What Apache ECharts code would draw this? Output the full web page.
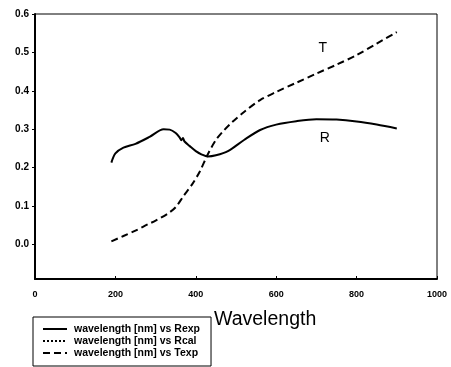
<!DOCTYPE html>
<html>
<head>
<meta charset="utf-8">
<title>Wavelength</title>
<script src="https://cdn.jsdelivr.net/npm/echarts@6/dist/echarts.min.js"></script>
<style>
  html, body { margin: 0; padding: 0; background: #fff; }
  #chart { width: 451px; height: 367px; }
</style>
</head>
<body>
<div id="chart"></div>
<script>
// R measured (solid)
var rWave = [190, 200, 220, 250, 285, 320, 335, 350, 360, 364, 368, 372, 385, 400, 415, 430, 450, 480, 520, 560, 600, 650, 700, 750, 800, 850, 900];
var rVal = [0.213, 0.237, 0.252, 0.262, 0.280, 0.300, 0.299, 0.290, 0.278, 0.271, 0.277, 0.268, 0.256, 0.243, 0.234, 0.229, 0.232, 0.243, 0.272, 0.298, 0.312, 0.321, 0.326, 0.325, 0.320, 0.312, 0.302];
// T measured (dashed)
var tWave = [190, 220, 250, 280, 300, 330, 350, 370, 390, 410, 430, 450, 470, 490, 520, 560, 600, 650, 700, 750, 800, 850, 900];
var tVal = [0.008, 0.022, 0.036, 0.052, 0.062, 0.080, 0.097, 0.127, 0.155, 0.190, 0.235, 0.272, 0.297, 0.318, 0.345, 0.376, 0.397, 0.421, 0.445, 0.468, 0.493, 0.523, 0.553];
// Rcal has no points in the plot, only in the legend
var rcalWave = [];
var rcalVal = [];

var seriesNames = ["wavelength [nm] vs Rexp", "wavelength [nm] vs Rcal", "wavelength [nm] vs Texp"];
var yTicks = [0, 0.1, 0.2, 0.3, 0.4, 0.5, 0.6];
var curveLabels = ["T", "R"];
var curveLabelAt = [[716, 0.512], [721, 0.277]];

function zip(xs, ys) {
  return xs.map(function (x, i) { return [x, ys[i]]; });
}

var font = "'Liberation Sans', Arial, sans-serif";

var chart = echarts.init(document.getElementById("chart"));
var option = {
  animation: false,
  title: {
    text: "Wavelength",
    left: 214,
    top: 310,
    padding: 0,
    textStyle: { fontFamily: font, fontSize: 19.5, fontWeight: "normal", color: "#000" },
  },
  legend: {
    orient: "vertical",
    left: 33,
    top: 317,
    height: 80,
    padding: [6, 11, 7, 9],
    itemWidth: 24,
    itemHeight: 8,
    itemGap: 0,
    itemStyle: { opacity: 0 },
    borderColor: "#000",
    borderWidth: 1,
    borderRadius: 0,
    data: seriesNames,
    textStyle: { fontFamily: font, fontSize: 10.5, lineHeight: 12, fontWeight: "bold", color: "#000", padding: [0, 0, 0, 2] },
  },
  grid: {
    left: 35,
    right: 14,
    top: 14,
    bottom: 88,
    show: true,
    borderColor: "#000",
    borderWidth: 1,
  },
  xAxis: {
    type: "value",
    min: 0,
    max: 1000,
    interval: 200,
    splitLine: { show: false },
    axisLine: { onZero: false, lineStyle: { color: "#000", width: 2 } },
    axisTick: { inside: true, length: 3, lineStyle: { color: "#000" } },
    axisLabel: {
      margin: 11,
      fontFamily: font,
      fontSize: 9,
      fontWeight: "bold",
      color: "#000",
      formatter: function (v) { return String(v); },
    },
  },
  yAxis: {
    type: "value",
    min: -0.09,
    max: 0.6,
    splitLine: { show: false },
    axisLine: { show: true, onZero: false, lineStyle: { color: "#000", width: 2 } },
    axisTick: { show: true, length: 3, customValues: yTicks, lineStyle: { color: "#000" } },
    axisLabel: {
      margin: 6,
      customValues: yTicks,
      fontFamily: font,
      fontSize: 10,
      fontWeight: "bold",
      color: "#000",
      formatter: function (v) { return v.toFixed(1); },
    },
  },
  series: [
    {
      name: seriesNames[0],
      type: "line",
      symbol: "none",
      smooth: 0.3,
      data: zip(rWave, rVal),
      lineStyle: { color: "#000", width: 2 },
      itemStyle: { color: "#000" },
      markPoint: {
        symbol: "circle",
        symbolSize: 0,
        label: { show: true, formatter: curveLabels[1], color: "#000", fontFamily: font, fontSize: 14 },
        data: [{ coord: curveLabelAt[1] }],
      },
    },
    {
      name: seriesNames[1],
      type: "line",
      symbol: "none",
      data: zip(rcalWave, rcalVal),
      lineStyle: { color: "#000", width: 1, type: "dotted" },
      itemStyle: { color: "#000" },
    },
    {
      name: seriesNames[2],
      type: "line",
      symbol: "none",
      smooth: 0.3,
      data: zip(tWave, tVal),
      lineStyle: { color: "#000", width: 2, type: [7, 4] },
      itemStyle: { color: "#000" },
      markPoint: {
        symbol: "circle",
        symbolSize: 0,
        label: { show: true, formatter: curveLabels[0], color: "#000", fontFamily: font, fontSize: 14 },
        data: [{ coord: curveLabelAt[0] }],
      },
    },
  ],
};
chart.setOption(option);
</script>
</body>
</html>
